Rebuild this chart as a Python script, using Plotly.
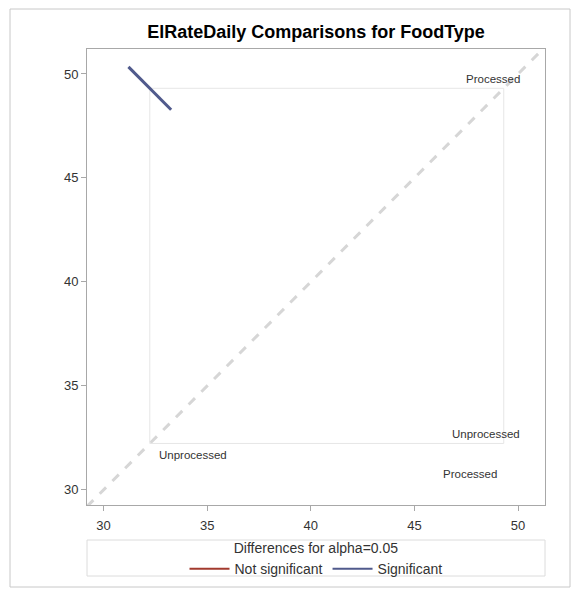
import plotly.graph_objects as go

# ---- data ----
levels = ["Processed", "Unprocessed"]
lsmeans = [49.31, 32.23]          # LS-means per FoodType
diff_halfwidth = [1.03]           # half-length of the Processed - Unprocessed CI segment (per axis)
significant = [True]
tick_vals = [30, 35, 40, 45, 50]

title = "ElRateDaily Comparisons for FoodType"
legend_title = "Differences for alpha=0.05"
sig_names = ["Not significant", "Significant"]
sig_colors = ["#A23A2E", "#505A8C"]

# ---- layout constants (page px; the page body has an 8px margin) ----
OFF = 8
W, H = 579 - OFF, 589 - OFF
PL, PR, PT, PB = 87 - OFF, 545 - OFF, 49 - OFF, 505 - OFF
ML, MR, MT, MB = PL, W - PR, PT, H - PB
xr = [29.2, 51.3]
yr = [29.27, 51.2]
pw, ph = PR - PL, PB - PT


def px(xpage):
    return (xpage - OFF - PL) / pw


def py(ypage):
    return (PB - (ypage - OFF)) / ph


fig = go.Figure()

# diagonal reference
lo, hi = min(xr[0], yr[0]), max(xr[1], yr[1])
fig.add_trace(go.Scatter(x=[lo, hi], y=[lo, hi], mode="lines",
                         line=dict(color="#d6d6d6", width=3, dash="dash"),
                         showlegend=False, hoverinfo="skip"))

# level reference lines
mn, mx = min(lsmeans), max(lsmeans)
for m in lsmeans:
    fig.add_trace(go.Scatter(x=[mn, mx], y=[m, m], mode="lines",
                             line=dict(color="#e6e6e6", width=1),
                             showlegend=False, hoverinfo="skip"))
    fig.add_trace(go.Scatter(x=[m, m], y=[mn, mx], mode="lines",
                             line=dict(color="#e6e6e6", width=1),
                             showlegend=False, hoverinfo="skip"))

# legend entries
fig.add_trace(go.Scatter(x=[None], y=[None], mode="lines", name=sig_names[0],
                         line=dict(color=sig_colors[0], width=2)))
fig.add_trace(go.Scatter(x=[None], y=[None], mode="lines", name=sig_names[1],
                         line=dict(color=sig_colors[1], width=2)))

# difference segment (x = Unprocessed mean, y = Processed mean)
cx, cy = lsmeans[1], lsmeans[0]
d = diff_halfwidth[0]
col = sig_colors[1] if significant[0] else sig_colors[0]
fig.add_trace(go.Scatter(x=[cx - d, cx + d], y=[cy + d, cy - d], mode="lines",
                         line=dict(color=col, width=3),
                         showlegend=False, hoverinfo="skip"))

# level labels
lab_font = dict(family="Liberation Sans, Arial", size=11.5, color="#333333")
annots = []
for name, m in zip(levels, lsmeans):
    annots.append(dict(x=50.2, y=m + 0.45, xref="x", yref="y", text=name,
                       showarrow=False, xanchor="right", yanchor="middle", font=lab_font))
annots.append(dict(x=lsmeans[1] + 0.35, y=31.68, xref="x", yref="y", text=levels[1],
                   showarrow=False, xanchor="left", yanchor="middle", font=lab_font))
annots.append(dict(x=lsmeans[0] - 0.25, y=30.77, xref="x", yref="y", text=levels[0],
                   showarrow=False, xanchor="right", yanchor="middle", font=lab_font))

shapes = [
    # outer frame
    dict(type="rect", xref="paper", yref="paper",
         x0=px(10), x1=px(570), y0=py(587), y1=py(9),
         line=dict(color="#c8c8c8", width=1), fillcolor="rgba(0,0,0,0)", layer="below"),
    # legend box
    dict(type="rect", xref="paper", yref="paper",
         x0=px(87), x1=px(545), y0=py(576), y1=py(540),
         line=dict(color="#dcdcdc", width=1), fillcolor="rgba(0,0,0,0)"),
]

axis_common = dict(showline=True, linecolor="#a8a8a8", linewidth=1, mirror=True,
                   ticks="outside", tickcolor="#a8a8a8", ticklen=5,
                   tickvals=tick_vals, showgrid=False, zeroline=False,
                   tickfont=dict(family="Liberation Sans, Arial", size=13, color="#333333"))

fig.update_layout(
    width=W, height=H,
    margin=dict(l=ML, r=MR, t=MT, b=MB, autoexpand=False),
    paper_bgcolor="white", plot_bgcolor="white",
    title=dict(text="<b>" + title + "</b>", x=(PL + pw / 2) / W, xanchor="center",
               y=1 - (32 - OFF) / H, yanchor="middle",
               font=dict(family="Liberation Sans, Arial", size=18, color="#000000")),
    xaxis=dict(range=xr, ticklabelstandoff=3, **axis_common),
    yaxis=dict(range=yr, **axis_common),
    showlegend=True,
    legend=dict(orientation="h", x=0.5, xanchor="center", y=py(535), yanchor="top",
                title=dict(text=legend_title, side="top center",
                           font=dict(family="Liberation Sans, Arial", size=14, color="#333333")),
                font=dict(family="Liberation Sans, Arial", size=14, color="#333333"),
                bgcolor="rgba(0,0,0,0)", tracegroupgap=0, itemwidth=40),
    annotations=annots,
    shapes=shapes,
)

fig.write_html("out.html")
